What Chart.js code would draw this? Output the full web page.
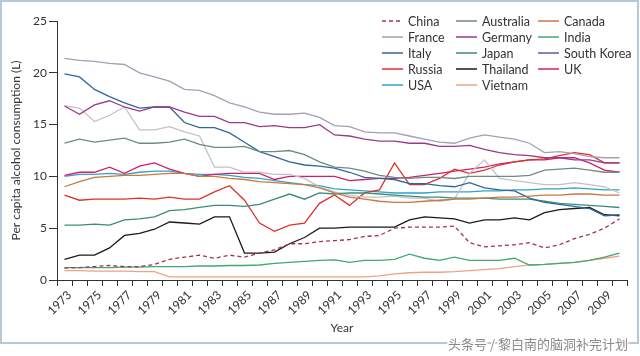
<!DOCTYPE html>
<html><head><meta charset="utf-8">
<script src="https://cdn.jsdelivr.net/npm/chart.js@4"></script>
<style>html,body{margin:0;padding:0;background:#fff;}</style>
</head><body>
<canvas id="c" width="640" height="356"></canvas>
<script>
const years = ['1973','1974','1975','1976','1977','1978','1979','1980','1981','1982','1983','1984','1985','1986','1987','1988','1989','1990','1991','1992','1993','1994','1995','1996','1997','1998','1999','2000','2001','2002','2003','2004','2005','2006','2007','2008','2009','2010'];
const yTicks = [0,5,10,15,20,25];

const china = [1.15,1.2,1.3,1.4,1.3,1.3,1.5,2.0,2.2,2.4, 2.1,2.4,2.2,2.6,2.9,3.5,3.5,3.7,3.8,3.9, 4.2,4.3,5.0,5.1,5.1,5.1,5.2,3.6,3.2,3.3, 3.4,3.6,3.1,3.4,4.0,4.4,5.0,5.9];
const australia = [13.2,13.6,13.3,13.5,13.7,13.2,13.2,13.3,13.6,13.1, 12.8,12.8,12.9,12.4,12.4,12.5,12.1,11.4,10.9,10.8, 10.5,10.1,9.9,9.8,9.9,9.9,9.8,10.0,10.0,10.0, 10.0,10.1,10.6,10.7,10.8,10.6,10.4,10.4];
const canada = [9.0,9.5,9.9,10.0,10.1,10.1,10.2,10.3,10.3,10.0, 10.0,9.8,9.7,9.5,9.4,9.3,9.2,8.9,8.4,8.0, 7.8,7.6,7.5,7.5,7.6,7.7,7.8,7.8,7.9,8.0, 8.0,8.1,8.2,8.2,8.3,8.3,8.2,8.2];
const france = [21.4,21.2,21.1,20.9,20.8,20.0,19.6,19.2,18.4,18.3, 17.8,17.1,16.7,16.2,16.0,16.0,16.1,15.7,14.9,14.8, 14.3,14.2,14.2,13.9,13.6,13.3,13.2,13.7,14.0,13.8, 13.6,13.2,12.3,12.4,12.2,11.9,11.8,11.8];
const germany = [16.8,16.0,16.9,17.3,16.7,16.3,16.7,16.7,16.2,15.8, 15.8,15.2,15.2,14.8,14.9,14.7,14.7,15.0,14.0,13.9, 13.6,13.4,13.4,13.2,13.2,12.9,12.9,13.0,12.6,12.3, 12.1,12.0,11.8,11.8,11.6,11.6,11.3,11.3];
const india = [1.2,1.2,1.2,1.2,1.25,1.25,1.3,1.3,1.3,1.35, 1.35,1.4,1.4,1.45,1.6,1.7,1.8,1.9,1.95,1.7, 1.9,1.9,2.0,2.5,2.1,1.9,2.2,1.9,1.9,1.9, 2.1,1.45,1.5,1.6,1.7,1.9,2.2,2.6];
const italy = [19.9,19.6,18.4,17.7,17.1,16.6,16.7,16.7,15.2,14.7, 14.7,14.2,13.3,12.4,11.9,11.4,11.1,11.0,10.8,10.4, 9.9,9.8,9.7,9.3,9.3,9.1,9.0,9.4,8.9,8.7, 8.6,7.9,7.5,7.3,7.1,6.9,6.2,6.3];
const japan = [5.3,5.3,5.4,5.3,5.8,5.9,6.1,6.7,6.8,7.0, 7.2,7.2,7.1,7.3,7.8,8.3,7.8,8.4,8.3,8.4, 8.4,8.3,8.2,8.1,8.0,8.0,7.9,7.9,7.9,7.8, 7.8,7.8,7.6,7.4,7.3,7.2,7.1,7.0];
const southKorea = [16.8,16.6,15.3,15.9,16.7,14.5,14.5,14.8,14.3,13.9, 10.9,10.9,10.4,10.4,10.2,10.2,9.8,9.0,8.5,8.2, 8.0,8.0,8.1,7.9,7.9,7.6,7.8,10.3,11.6,9.8, 9.6,9.4,9.2,9.2,9.4,9.2,9.0,8.4];
const russia = [8.2,7.7,7.8,7.8,7.8,7.9,7.8,8.0,7.8,7.8, 8.5,9.1,7.7,5.5,4.7,5.3,5.5,7.4,8.2,7.2, 8.4,8.7,11.3,9.2,9.2,9.8,10.7,10.3,10.6,11.1, 11.4,11.6,11.7,12.0,12.3,12.1,11.3,11.3];
const thailand = [2.0,2.4,2.4,3.1,4.3,4.5,4.9,5.6,5.5,5.4, 6.1,6.1,2.6,2.6,2.7,3.5,4.1,5.0,5.0,5.1, 5.1,5.1,5.1,5.8,6.1,6.0,5.9,5.5,5.8,5.8, 6.0,5.8,6.5,6.8,6.9,7.0,6.3,6.2];
const uk = [10.1,10.4,10.4,10.9,10.3,11.0,11.3,10.7,10.3,10.0, 10.2,10.3,10.3,10.3,9.7,10.0,10.0,10.0,10.0,9.6, 9.7,9.8,9.8,9.9,10.1,10.3,10.5,10.7,10.9,11.2, 11.4,11.6,11.6,11.8,11.8,11.3,10.6,10.4];
const usa = [10.0,10.2,10.2,10.3,10.2,10.4,10.5,10.5,10.3,10.2, 10.2,10.1,9.9,9.8,9.6,9.4,9.2,9.1,8.8,8.7, 8.6,8.5,8.4,8.4,8.4,8.5,8.5,8.5,8.6,8.6, 8.7,8.7,8.8,8.8,8.9,8.8,8.7,8.7];
const vietnam = [0.9,0.9,0.85,0.85,0.85,0.8,0.8,0.3,0.3,0.3, 0.3,0.3,0.3,0.3,0.3,0.3,0.3,0.3,0.3,0.3, 0.3,0.4,0.6,0.7,0.75,0.75,0.8,0.9,1.0,1.1, 1.3,1.45,1.5,1.6,1.7,1.9,2.1,2.3];

const seriesNames = ['China','Australia','Canada','France','Germany','India','Italy','Japan','South Korea','Russia','Thailand','UK','USA','Vietnam'];
const seriesData = [china,australia,canada,france,germany,india,italy,japan,southKorea,russia,thailand,uk,usa,vietnam];
const seriesColors = ['#a0325a','#6f8a80','#c97a40','#a79db3','#9a3a8a','#41a872','#2f679a','#3a8c7a','#c4c0c8','#e0302c','#1a1a1a','#d0206a','#30a2c8','#eea283'];
const legendColors = ['#a0325a','#6f8a80','#c97a40','#a79db3','#9a3a8a','#41a872','#2f679a','#3a8c7a','#6b55a0','#e0302c','#1a1a1a','#d0206a','#30a2c8','#eea283'];

const FONT = 'Lato, "Open Sans", sans-serif';
const TXT = '#333';

const datasets = seriesNames.map((n,i)=>({
  label:n, data:seriesData[i], borderColor:seriesColors[i], backgroundColor:legendColors[i],
  borderWidth:1.3, pointRadius:0, tension:0, fill:false,
  borderDash: n==='China' ? [4,3] : []
}));

const legendPlugin = {
  id:'customLegend',
  afterDraw(chart){
    const ctx = chart.ctx;
    const colX = [382,456,538];
    const rowY = [21,37,53,69,85];
    ctx.save();
    ctx.font = '12.5px ' + FONT;
    ctx.textBaseline = 'middle';
    chart.data.datasets.forEach((ds,i)=>{
      const x = colX[i%3], y = rowY[Math.floor(i/3)];
      ctx.strokeStyle = ds.backgroundColor; ctx.lineWidth = 1.5;
      ctx.setLineDash(ds.borderDash||[]);
      ctx.beginPath(); ctx.moveTo(x,y); ctx.lineTo(x+21,y); ctx.stroke();
      ctx.setLineDash([]);
      ctx.fillStyle = TXT; ctx.fillText(ds.label, x+26, y+0.5);
    });
    ctx.restore();
  }
};
const framePlugin = {
  id:'frame',
  beforeDraw(chart){
    const ctx = chart.ctx;
    ctx.save();
    ctx.fillStyle='#fff'; ctx.fillRect(0,0,640,356);
    ctx.strokeStyle='#b7c8d6'; ctx.lineWidth=2;
    ctx.strokeRect(1,1,637,342);
    ctx.restore();
  },
  afterDraw(chart){
    const ctx = chart.ctx;
    ctx.save();
    ctx.font = '13px "Noto Sans CJK SC", sans-serif';
    ctx.textAlign='right'; ctx.textBaseline='middle';
    ctx.lineWidth=3; ctx.strokeStyle='rgba(255,255,255,0.9)';
    ctx.strokeText('头条号 / 黎白南的脑洞补完计划', 628, 344);
    ctx.fillStyle='#8a8a8a';
    ctx.fillText('头条号 / 黎白南的脑洞补完计划', 628, 344);
    ctx.restore();
  }
};

new Chart(document.getElementById('c'), {
  type:'line',
  data:{labels:years, datasets},
  options:{
    responsive:false, animation:false,
    layout:{padding:{top:21,right:13,left:0,bottom:13}},
    plugins:{legend:{display:false}, tooltip:{enabled:false}},
    scales:{
      x:{
        type:'category', offset:true,
        grid:{offset:true, drawOnChartArea:false, drawTicks:true, tickLength:6, color:'#333', lineWidth:1},
        border:{color:'#333', width:1},
        ticks:{autoSkip:false, minRotation:45, maxRotation:45, padding:2, labelOffset:5, color:TXT, font:{family:FONT,size:12},
          callback:(v,i)=> (i%2===0 ? years[i] : '')},
        title:{display:true, text:'Year', color:TXT, font:{family:FONT,size:12}, padding:{top:0,bottom:8}},
        afterFit(s){ s.height = 63; }
      },
      y:{
        min:0, max:25,
        afterBuildTicks(s){ s.ticks = yTicks.map(v=>({value:v})); },
        grid:{drawOnChartArea:false, drawTicks:true, tickLength:8, color:'#333', lineWidth:1},
        border:{color:'#333', width:1},
        ticks:{color:TXT, font:{family:FONT,size:12}, padding:2},
        title:{display:true, text:'Per capita alcohol consumption (L)', color:TXT, font:{family:FONT,size:12}, padding:{top:9,bottom:0}},
        afterFit(s){ s.width = 57; }
      }
    }
  },
  plugins:[framePlugin, legendPlugin]
});
</script>
</body></html>
